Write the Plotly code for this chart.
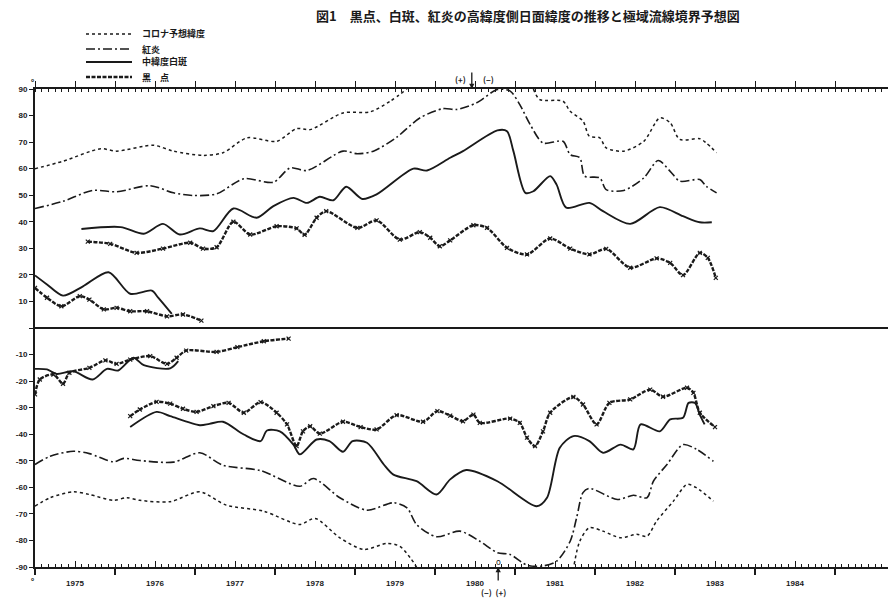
import plotly.graph_objects as go

# ---------------- data: decimal year, heliographic latitude (deg) ----------------
# Corona predicted latitude (dotted)
CORONA_N_T = [1975.0, 1975.35, 1975.82, 1976.02, 1976.48, 1976.73, 1977.10, 1977.35, 1977.65, 1978.02,
              1978.27, 1978.44, 1978.85, 1979.19, 1979.44, 1979.65, None, 1981.23, 1981.31, 1981.60,
              1981.69, 1981.85, 1981.93, 1982.06, 1982.14, 1982.36, 1982.61, 1982.81, 1982.94, 1983.06,
              1983.31, 1983.39, 1983.52]
CORONA_N_V = [60.0, 62.8, 67.5, 66.6, 68.8, 66.6, 65.0, 66.0, 71.6, 70.3,
              75.1, 74.7, 81.0, 81.4, 85.4, 90.0, None, 90.0, 86.0, 85.4,
              81.6, 77.9, 72.2, 71.6, 67.8, 66.6, 70.3, 79.1, 77.3, 71.0,
              71.3, 69.7, 66.0]
CORONA_S_T = [1975.0, 1975.19, 1975.48, 1975.68, 1975.98, 1976.15, 1976.31, 1976.69, 1977.06, 1977.39,
              1977.86, 1978.31, 1978.50, 1978.81, 1979.11, 1979.40, 1979.56, 1979.69, 1979.77, None,
              1981.74, 1981.81, 1981.93, 1982.10, 1982.32, 1982.52, 1982.65, 1982.77, 1982.98, 1983.15,
              1983.27, 1983.48]
CORONA_S_V = [-67.1, -63.9, -61.7, -62.7, -64.9, -63.9, -64.9, -65.4, -61.7, -66.7,
              -69.0, -74.0, -71.7, -79.0, -83.4, -81.1, -82.2, -86.5, -90.0, None,
              -89.0, -80.3, -75.2, -76.5, -79.0, -77.7, -78.4, -72.7, -65.2, -58.9,
              -60.2, -65.2]

# Prominences (dash-dot)
PROM_N_T = [1975.0, 1975.35, 1975.72, 1976.02, 1976.44, 1976.73, 1976.98, 1977.27, 1977.61, 1977.98,
            1978.19, 1978.40, 1978.85, 1979.03, 1979.23, 1979.52, 1979.81, 1980.10, 1980.27, 1980.52,
            1980.78, 1980.94, 1981.06, 1981.19, 1981.35, 1981.60, 1981.69, 1981.81, 1981.87, 1982.06,
            1982.14, 1982.36, 1982.61, 1982.79, 1982.94, 1983.06, 1983.31, 1983.39, 1983.52]
PROM_N_V = [45.0, 47.7, 51.8, 51.3, 53.6, 50.9, 49.9, 50.5, 56.2, 54.9,
            60.3, 59.3, 66.6, 65.6, 66.6, 71.8, 79.1, 82.6, 82.3, 84.8,
            89.8, 89.2, 84.1, 76.6, 69.7, 70.3, 65.3, 64.1, 57.2, 56.5,
            52.1, 51.8, 56.5, 63.1, 59.0, 55.3, 55.9, 53.4, 50.9]
PROM_S_T = [1975.0, 1975.19, 1975.48, 1975.68, 1975.98, 1976.11, 1976.31, 1976.73, 1977.06, 1977.35,
            1977.82, 1978.31, 1978.48, 1978.81, 1979.15, 1979.48, 1979.65, 1979.77, 1980.02, 1980.31,
            1980.56, 1980.78, 1980.94, 1981.15, 1981.35, 1981.52, 1981.69, 1981.77, 1981.85, 1981.93,
            1982.28, 1982.48, 1982.65, 1982.73, 1982.90, 1983.10, 1983.27, 1983.48]
PROM_S_V = [-51.4, -48.3, -46.4, -47.3, -50.4, -49.1, -49.9, -50.5, -47.0, -51.7,
            -53.7, -59.6, -56.7, -63.9, -68.6, -65.8, -67.7, -74.0, -78.6, -76.5,
            -80.3, -84.6, -85.3, -89.3, -89.6, -87.8, -80.3, -71.5, -62.0, -60.4,
            -64.6, -63.0, -63.9, -57.7, -51.4, -43.9, -45.7, -50.2]

# Faculae (solid)
FAC_N_OLD_T = [1975.0, 1975.15, 1975.35, 1975.60, 1975.92, 1976.19, 1976.46, 1976.54, 1976.71]
FAC_N_OLD_V = [19.8, 16.4, 12.2, 15.7, 21.0, 12.9, 14.1, 11.4, 5.3]
FAC_N_NEW_T = [1975.58, 1976.07, 1976.36, 1976.60, 1976.81, 1977.06, 1977.23, 1977.48, 1977.77, 1977.98,
               1978.23, 1978.40, 1978.56, 1978.73, 1978.89, 1979.09, 1979.27, 1979.73, 1979.90, 1980.19,
               1980.35, 1980.78, 1980.90, 1980.98, 1981.13, 1981.23, 1981.44, 1981.52, 1981.64, 1981.93,
               1982.10, 1982.44, 1982.81, 1983.10, 1983.31, 1983.46]
FAC_N_NEW_V = [37.3, 38.0, 35.5, 39.2, 35.2, 37.5, 36.5, 45.0, 41.5, 45.9,
               49.0, 47.1, 49.4, 48.1, 53.2, 48.6, 50.3, 60.0, 59.3, 64.1,
               66.6, 74.4, 74.1, 66.6, 50.9, 51.5, 57.2, 54.0, 45.3, 47.1,
               44.0, 39.2, 45.5, 42.1, 39.8, 39.8]
FAC_S_OLD_T = [1975.0, 1975.15, 1975.27, 1975.48, 1975.72, 1975.90, 1976.04, 1976.23, 1976.36, 1976.69, 1976.79]
FAC_S_OLD_V = [-15.4, -15.6, -17.3, -16.3, -19.4, -15.4, -16.0, -11.2, -14.0, -15.2, -12.5]
FAC_S_NEW_T = [1976.19, 1976.52, 1976.69, 1977.06, 1977.18, 1977.35, 1977.61, 1977.82, 1977.90, 1978.06,
               1978.23, 1978.31, 1978.52, 1978.68, 1978.85, 1978.97, 1979.15, 1979.36, 1979.48, 1979.77,
               1980.02, 1980.19, 1980.39, 1980.78, 1981.27, 1981.40, 1981.56, 1981.73, 1981.93, 1982.10,
               1982.32, 1982.48, 1982.57, 1982.81, 1982.94, 1983.10, 1983.17, 1983.25, 1983.31, 1983.37]
FAC_S_NEW_V = [-37.3, -31.6, -33.2, -36.6, -36.1, -35.3, -40.1, -42.6, -38.6, -38.9,
               -43.9, -47.6, -42.0, -42.6, -46.6, -42.6, -43.2, -51.4, -55.2, -57.7,
               -62.7, -57.0, -53.5, -57.7, -67.1, -63.9, -45.1, -40.7, -42.6, -47.0,
               -43.9, -45.7, -36.3, -38.9, -34.4, -33.8, -28.2, -28.2, -32.6, -36.3]

# Sunspots (dashed, crossed)
SPOT_N_OLD_T = [1975.0, 1975.15, 1975.33, 1975.56, 1975.68, 1975.86, 1976.02, 1976.19, 1976.40, 1976.65, 1976.85, 1977.08]
SPOT_N_OLD_V = [15.1, 11.4, 8.2, 12.0, 10.7, 7.0, 7.6, 6.3, 6.3, 4.4, 5.1, 2.8]
SPOT_N_NEW_T = [1975.66, 1975.94, 1976.27, 1976.60, 1976.94, 1977.10, 1977.27, 1977.48, 1977.69, 1978.02,
                1978.27, 1978.37, 1978.52, 1978.64, 1979.03, 1979.27, 1979.56, 1979.81, 1979.94, 1980.06,
                1980.19, 1980.48, 1980.65, 1980.90, 1981.15, 1981.44, 1981.69, 1981.93, 1982.14, 1982.44,
                1982.77, 1982.94, 1983.10, 1983.31, 1983.41, 1983.51]
SPOT_N_NEW_V = [32.5, 31.7, 28.3, 29.9, 32.1, 29.9, 30.4, 40.0, 35.2, 38.3,
                37.5, 35.1, 41.5, 44.0, 37.7, 40.5, 33.3, 36.1, 34.0, 30.8,
                33.0, 38.7, 37.7, 30.2, 27.7, 33.7, 29.9, 27.7, 29.8, 22.7,
                26.2, 24.5, 19.9, 28.3, 26.4, 18.9]
SPOT_S_OLD_T = [1975.0, 1975.06, 1975.23, 1975.35, 1975.43, 1975.68, 1975.88, 1976.02, 1976.19, 1976.44,
                1976.65, 1976.77, 1976.89, 1977.27, 1977.53, 1977.86, 1978.17]
SPOT_S_OLD_V = [-25.0, -19.4, -17.5, -21.0, -16.9, -15.0, -12.2, -13.5, -11.9, -10.6,
                -13.5, -11.2, -8.5, -9.0, -7.2, -5.0, -4.0]
SPOT_S_NEW_T = [1976.19, 1976.31, 1976.52, 1976.69, 1976.85, 1977.02, 1977.23, 1977.42, 1977.61, 1977.82,
                1978.02, 1978.15, 1978.27, 1978.35, 1978.44, 1978.56, 1978.85, 1979.07, 1979.27, 1979.52,
                1979.85, 1980.03, 1980.19, 1980.35, 1980.48, 1980.56, 1980.94, 1981.06, 1981.15, 1981.25,
                1981.35, 1981.44, 1981.73, 1981.85, 1982.02, 1982.18, 1982.44, 1982.69, 1982.85, 1983.15,
                1983.23, 1983.31, 1983.50]
SPOT_S_NEW_V = [-33.2, -30.7, -27.8, -28.5, -30.4, -31.6, -29.4, -28.2, -31.9, -27.9,
                -31.9, -36.3, -44.5, -38.9, -37.0, -39.8, -35.3, -37.3, -38.2, -32.8,
                -35.3, -31.3, -33.0, -35.1, -32.6, -35.7, -34.1, -35.7, -41.3, -44.5,
                -38.9, -31.9, -26.0, -28.8, -36.3, -28.2, -26.9, -23.2, -25.9, -22.5,
                -24.4, -31.9, -37.3]

YEAR_LABELS = ["1975", "1976", "1977", "1978", "1979", "1980", "1981", "1982", "1983", "1984"]
LAT_TICKS = [90, 80, 70, 60, 50, 40, 30, 20, 10, 0, -10, -20, -30, -40, -50, -60, -70, -80, -90]
LEGEND_NAMES = ["コロナ予想緯度", "紅炎", "中緯度白斑", "黒　点"]
TITLE = "図1　黒点、白斑、紅炎の高緯度側日面緯度の推移と極域流線境界予想図"
REVERSAL_N = 1980.46   # north polar reversal (+) -> (-)
REVERSAL_S = 1980.79   # south polar reversal (-) -> (+)

# ---------------- styles ----------------
INK = "#1a1a1a"
STY = {
    "corona": dict(color=INK, width=1.5, dash="3px,3px"),
    "prom": dict(color=INK, width=1.6, dash="9px,3px,2px,3px"),
    "fac": dict(color=INK, width=1.9),
    "spot": dict(color=INK, width=2.4, dash="4px,1.5px"),
}

series = [
    ("corona", CORONA_N_T, CORONA_N_V), ("corona", CORONA_S_T, CORONA_S_V),
    ("prom", PROM_N_T, PROM_N_V), ("prom", PROM_S_T, PROM_S_V),
    ("fac", FAC_N_OLD_T, FAC_N_OLD_V), ("fac", FAC_N_NEW_T, FAC_N_NEW_V),
    ("fac", FAC_S_OLD_T, FAC_S_OLD_V), ("fac", FAC_S_NEW_T, FAC_S_NEW_V),
    ("spot", SPOT_N_OLD_T, SPOT_N_OLD_V), ("spot", SPOT_N_NEW_T, SPOT_N_NEW_V),
    ("spot", SPOT_S_OLD_T, SPOT_S_OLD_V), ("spot", SPOT_S_NEW_T, SPOT_S_NEW_V),
]

fig = go.Figure()
for kind, t, v in series:
    line = dict(STY[kind], shape="spline", smoothing=0.8)
    mode = "lines+markers" if kind == "spot" else "lines"
    fig.add_trace(go.Scatter(
        x=t, y=v, mode=mode, line=line, connectgaps=False,
        marker=dict(symbol="x-thin", size=4, line=dict(width=1.2, color=INK), color=INK),
        showlegend=False, hoverinfo="skip"))

# ---------------- layout ----------------
W, H = 888, 598
ML, MR, MT, MB = 35, 0, 89, 31
PX_PER_YEAR = 80
x0 = 1975.0
x1 = x0 + (W - ML - MR) / PX_PER_YEAR

def px(xp):
    return (xp - ML) / (W - ML - MR)

def py(yp):
    return (H - MB - yp) / (H - MT - MB)

first = int(x0)
half_years = [first + i + 0.5 for i in range(len(YEAR_LABELS))]
year_bounds = [first + i for i in range(len(YEAR_LABELS) + 2)]
months = [first + i / 12 for i in range(12 * (len(YEAR_LABELS) + 1) + 8)]
tickfont = dict(family="Liberation Sans", size=8, color=INK, weight="bold")

fig.update_layout(
    width=W, height=H, margin=dict(l=ML, r=MR, t=MT, b=MB),
    paper_bgcolor="white", plot_bgcolor="white",
    font=dict(family="Noto Sans CJK JP", color=INK),
    xaxis=dict(range=[x0, x1], showgrid=False, zeroline=False, showline=True, linewidth=2,
               linecolor=INK, side="bottom",
               tickmode="array", tickvals=half_years, ticktext=YEAR_LABELS,
               ticks="inside", ticklen=6, tickwidth=1.3, tickcolor=INK,
               tickfont=tickfont, ticklabelstandoff=7,
               minor=dict(tickmode="array", tickvals=months, ticks="inside", ticklen=3,
                          tickwidth=1, tickcolor=INK, showgrid=False)),
    xaxis2=dict(range=[x0, x1], overlaying="x", anchor="y", side="bottom",
                showgrid=False, zeroline=False, showline=False, showticklabels=False,
                tickmode="array", tickvals=year_bounds, ticks="outside", ticklen=7,
                tickwidth=1.5, tickcolor=INK),
    xaxis3=dict(range=[x0, x1], overlaying="x", anchor="y", side="top",
                showgrid=False, zeroline=False, showline=True, linewidth=2, linecolor=INK,
                showticklabels=False, tickmode="array", tickvals=year_bounds + half_years,
                ticks="outside", ticklen=6, tickwidth=1.3, tickcolor=INK,
                minor=dict(tickmode="array", tickvals=months, ticks="inside", ticklen=3,
                           tickwidth=1, tickcolor=INK, showgrid=False)),
    yaxis=dict(range=[-90, 90], showgrid=False, zeroline=True, zerolinewidth=1.8,
               zerolinecolor=INK, showline=True, linewidth=2, linecolor=INK,
               tickmode="array", tickvals=LAT_TICKS,
               ticktext=[("" if v == 0 else str(v)) for v in LAT_TICKS],
               ticks="outside", ticklen=4, tickwidth=1.3, tickcolor=INK,
               tickfont=tickfont),
)

# invisible traces so the overlay axes get drawn
for ax in ("x2", "x3"):
    fig.add_trace(go.Scatter(x=[x0], y=[0], xaxis=ax, yaxis="y", mode="markers",
                             marker=dict(opacity=0), showlegend=False, hoverinfo="skip"))


def label(text, xp, yp, size, anchor="center"):
    fig.add_annotation(text=text, xref="paper", yref="paper", x=px(xp), y=py(yp),
                       xanchor=anchor, yanchor="middle", showarrow=False,
                       font=dict(size=size, family="Noto Sans CJK JP", color=INK))


# title
label("<b>" + TITLE + "</b>", 528, 15, 13)

# hand-drawn legend
leg_y = [34, 49, 62, 77]
for name, kind, yy in zip(LEGEND_NAMES, ["corona", "prom", "fac", "spot"], leg_y):
    st = STY[kind]
    fig.add_shape(type="line", xref="paper", yref="paper",
                  x0=px(86), x1=px(132), y0=py(yy), y1=py(yy),
                  line=dict(color=INK, width=st["width"], dash=st.get("dash", "solid")))
    label("<b>" + name + "</b>", 140, yy, 9, anchor="left")

# polarity reversal markers
fig.add_annotation(x=REVERSAL_N, y=90, xref="x", yref="y", text="", showarrow=True,
                   arrowhead=2, arrowsize=0.8, arrowwidth=1.3, arrowcolor=INK, ax=0, ay=-18)
label("<b>(+)</b>", 460, 79, 8)
label("<b>(−)</b>", 488, 79, 8)
fig.add_annotation(x=REVERSAL_S, y=-90, xref="x", yref="y", text="", showarrow=True,
                   arrowhead=2, arrowsize=0.8, arrowwidth=1.3, arrowcolor=INK, ax=0, ay=15)
fig.add_annotation(x=REVERSAL_S, y=-90, xref="x", yref="y", text="o", showarrow=False,
                   yshift=6, yanchor="middle", font=dict(size=8, color=INK))
label("<b>(−)  (+)</b>", 494, 592, 8)
label("<b>o</b>", 32, 80, 5)
label("<b>o</b>", 32, 578, 5)

fig.write_html("out.html", config={"displayModeBar": False},
               post_script="document.body.style.margin='0px';document.body.style.overflow='hidden';")
